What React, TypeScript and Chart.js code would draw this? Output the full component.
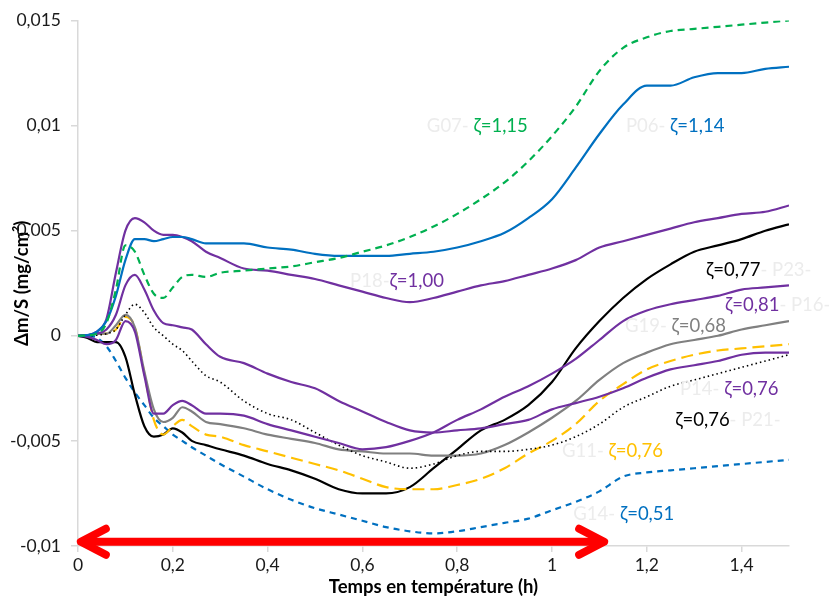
import { useEffect, useRef } from "react";
import { Chart, registerables } from "chart.js";
Chart.register(...registerables);

// Time in temperature (h)
const T = [0, 0.02, 0.04, 0.06, 0.08, 0.1, 0.12, 0.14, 0.16, 0.18, 0.2, 0.22, 0.24, 0.27, 0.3, 0.35, 0.4, 0.45, 0.5, 0.55, 0.6, 0.65, 0.7, 0.75, 0.8, 0.85, 0.9, 0.95, 1.0, 1.05, 1.1, 1.15, 1.2, 1.25, 1.3, 1.35, 1.4, 1.45, 1.5];

const G07 = [0, 0.00002, 0.0001, 0.0006, 0.0022, 0.0043, 0.004, 0.0029, 0.002, 0.0018, 0.0023, 0.0028, 0.0029, 0.0028, 0.003, 0.0031, 0.0032, 0.0033, 0.0035, 0.0037, 0.004, 0.0043, 0.0047, 0.0052, 0.0058, 0.0065, 0.0073, 0.0083, 0.0095, 0.0109, 0.0126, 0.0137, 0.0142, 0.0145, 0.0146, 0.0147, 0.0148, 0.0149, 0.015];
const P06 = [0, 0.00003, 0.0002, 0.0007, 0.0019, 0.0036, 0.0046, 0.0046, 0.0045, 0.0046, 0.0047, 0.0047, 0.0046, 0.0044, 0.0044, 0.0044, 0.0042, 0.0041, 0.0039, 0.0038, 0.0038, 0.0038, 0.0039, 0.004, 0.0042, 0.0045, 0.0049, 0.0056, 0.0065, 0.008, 0.0096, 0.011, 0.0119, 0.0119, 0.0123, 0.0125, 0.0125, 0.0127, 0.0128];
const P18 = [0, 0.00003, 0.0002, 0.0008, 0.003, 0.005, 0.0056, 0.0054, 0.005, 0.0048, 0.0048, 0.0047, 0.0045, 0.004, 0.0037, 0.0032, 0.0031, 0.0029, 0.0027, 0.0024, 0.0021, 0.0018, 0.0016, 0.0018, 0.0021, 0.0024, 0.0026, 0.0029, 0.0032, 0.0036, 0.0042, 0.0045, 0.0048, 0.0051, 0.0054, 0.0056, 0.0058, 0.0059, 0.0062];
const P23 = [0, -0.0001, -0.0003, -0.0003, -0.0003, -0.001, -0.0028, -0.0043, -0.0048, -0.0047, -0.0044, -0.0046, -0.005, -0.0052, -0.0054, -0.0057, -0.0061, -0.0064, -0.0068, -0.0073, -0.0075, -0.0075, -0.0072, -0.0063, -0.0054, -0.0045, -0.004, -0.0033, -0.0022, -0.0006, 0.0007, 0.0018, 0.0027, 0.0034, 0.004, 0.0043, 0.0046, 0.005, 0.0053];
const P16 = [0, -0.00005, -0.0002, -0.0004, -0.0002, 0.0007, 0.0002, -0.0019, -0.0037, -0.0037, -0.0033, -0.0031, -0.0033, -0.0037, -0.0037, -0.0038, -0.0042, -0.0045, -0.0048, -0.0051, -0.0054, -0.0053, -0.005, -0.0046, -0.004, -0.0035, -0.0029, -0.0024, -0.0018, -0.0011, -0.0002, 0.0007, 0.0012, 0.0015, 0.0017, 0.0019, 0.0022, 0.0023, 0.0024];
const G19 = [0, 0.00002, 0.0001, 0.0001, 0.0005, 0.001, 0.0004, -0.0017, -0.0035, -0.0041, -0.0039, -0.0034, -0.0036, -0.0041, -0.0042, -0.0044, -0.0047, -0.0049, -0.0051, -0.0054, -0.0055, -0.0056, -0.0056, -0.0057, -0.0057, -0.0056, -0.0052, -0.0046, -0.0039, -0.0031, -0.0021, -0.0013, -0.0008, -0.0004, -0.0002, 0.0, 0.0003, 0.0005, 0.0007];
const P14 = [0, 0.00003, 0.0001, 0.0003, 0.001, 0.0024, 0.0029, 0.0022, 0.0012, 0.0006, 0.0005, 0.0004, 0.0003, -0.0004, -0.001, -0.0013, -0.0018, -0.0022, -0.0025, -0.0031, -0.0036, -0.0041, -0.0045, -0.0046, -0.0045, -0.0044, -0.0042, -0.004, -0.0035, -0.0032, -0.0029, -0.0025, -0.002, -0.0016, -0.0014, -0.0012, -0.0009, -0.0008, -0.0008];
const P21 = [0, 0.0, 0.00003, 0.0001, 0.0003, 0.001, 0.0015, 0.0011, 0.0004, 0.0, -0.0004, -0.0007, -0.0012, -0.0019, -0.0022, -0.0031, -0.0037, -0.004, -0.0046, -0.0052, -0.0057, -0.006, -0.0063, -0.0061, -0.0057, -0.0055, -0.0055, -0.0054, -0.0052, -0.0048, -0.0042, -0.0034, -0.0029, -0.0024, -0.0021, -0.0018, -0.0015, -0.0012, -0.0009];
const G11 = [0, 0.00002, 0.0001, 0.0001, 0.0003, 0.0009, 0.0004, -0.0018, -0.004, -0.0047, -0.0043, -0.004, -0.0043, -0.0047, -0.0048, -0.0052, -0.0055, -0.0058, -0.0061, -0.0064, -0.0068, -0.0072, -0.0073, -0.0073, -0.0071, -0.0068, -0.0063, -0.0056, -0.005, -0.0042, -0.0031, -0.0023, -0.0016, -0.0012, -0.0009, -0.0007, -0.0006, -0.0005, -0.0004];
const G14 = [0, 0.0, -0.0001, -0.0005, -0.0012, -0.002, -0.0027, -0.0033, -0.0039, -0.0043, -0.0047, -0.005, -0.0053, -0.0057, -0.0061, -0.0067, -0.0073, -0.0078, -0.0082, -0.0085, -0.0088, -0.0091, -0.0093, -0.0094, -0.0093, -0.0091, -0.0089, -0.0087, -0.0083, -0.0079, -0.0074, -0.0067, -0.0065, -0.0064, -0.0063, -0.0062, -0.0061, -0.006, -0.0059];

const GREEN = "#00B050";
const BLUE = "#0070C0";
const PURPLE = "#7030A0";
const BLACK = "#000000";
const GRAY = "#808080";
const YELLOW = "#FFC000";
const LIGHT = "#ececec";
const RED = "#FF0000";
const AXIS = "#d9d9d9";

const FONT_FAMILY = 'Lato, "Liberation Sans", sans-serif';

const SERIES = [
  { name: "G07", values: G07, color: GREEN, width: 2.2, dash: [7, 5] },
  { name: "P06", values: P06, color: BLUE, width: 2.2, dash: [] },
  { name: "P18", values: P18, color: PURPLE, width: 2.2, dash: [] },
  { name: "P14", values: P14, color: PURPLE, width: 2.2, dash: [] },
  { name: "P16", values: P16, color: PURPLE, width: 2.2, dash: [] },
  { name: "P21", values: P21, color: BLACK, width: 1.6, dash: [1.5, 3] },
  { name: "G19", values: G19, color: GRAY, width: 2.2, dash: [] },
  { name: "G11", values: G11, color: YELLOW, width: 2.2, dash: [12, 6] },
  { name: "P23", values: P23, color: BLACK, width: 2.2, dash: [] },
  { name: "G14", values: G14, color: BLUE, width: 2.2, dash: [6, 5] },
];

// Annotation labels: anchor (start of text) in data units
const LABELS = [
  { x: 0.736, y: 0.01, parts: [["G07- ", LIGHT], ["ζ=1,15", GREEN]] },
  { x: 1.156, y: 0.01, parts: [["P06- ", LIGHT], ["ζ=1,14", BLUE]] },
  { x: 0.574, y: 0.0026, parts: [["P18-", LIGHT], ["ζ=1,00", PURPLE]] },
  { x: 1.325, y: 0.00315, parts: [["ζ=0,77", BLACK], ["- P23-", LIGHT]] },
  { x: 1.365, y: 0.00146, parts: [["ζ=0,81", PURPLE], ["- P16-", LIGHT]] },
  { x: 1.154, y: 0.00047, parts: [["G19- ", LIGHT], ["ζ=0,68", GRAY]] },
  { x: 1.27, y: -0.00254, parts: [["P14- ", LIGHT], ["ζ=0,76", PURPLE]] },
  { x: 1.26, y: -0.004, parts: [["ζ=0,76", BLACK], ["- P21-", LIGHT]] },
  { x: 1.021, y: -0.0055, parts: [["G11- ", LIGHT], ["ζ=0,76", YELLOW]] },
  { x: 1.045, y: -0.00847, parts: [["G14- ", LIGHT], ["ζ=0,51", BLUE]] },
];

const ARROW_FROM = 0.006;
const ARROW_TO = 1.11;
const ARROW_Y = -0.0098;

const overlayPlugin = {
  id: "overlay",
  afterDatasetsDraw(chart: any) {
    const { ctx, scales } = chart;
    const xs = scales.x;
    const ys = scales.y;
    ctx.save();
    ctx.font = `18.5px ${FONT_FAMILY}`;
    ctx.textBaseline = "middle";
    ctx.textAlign = "left";
    for (const lab of LABELS) {
      let px = xs.getPixelForValue(lab.x);
      const py = ys.getPixelForValue(lab.y);
      for (const [txt, col] of lab.parts) {
        ctx.fillStyle = col;
        ctx.fillText(txt, px, py);
        px += ctx.measureText(txt).width;
      }
    }
    // red double arrow
    const x1 = xs.getPixelForValue(ARROW_FROM);
    const x2 = xs.getPixelForValue(ARROW_TO);
    const y = ys.getPixelForValue(ARROW_Y);
    ctx.strokeStyle = RED;
    ctx.lineWidth = 8;
    ctx.lineCap = "round";
    ctx.lineJoin = "round";
    ctx.beginPath();
    ctx.moveTo(x1 + 2, y);
    ctx.lineTo(x2 - 2, y);
    ctx.stroke();
    ctx.beginPath();
    ctx.moveTo(x1 + 25, y - 13);
    ctx.lineTo(x1, y);
    ctx.lineTo(x1 + 25, y + 13);
    ctx.stroke();
    ctx.beginPath();
    ctx.moveTo(x2 - 25, y - 13);
    ctx.lineTo(x2, y);
    ctx.lineTo(x2 - 25, y + 13);
    ctx.stroke();
    ctx.restore();
  },
};

function fmt(v: number, d: number) {
  const r = Math.round(v * Math.pow(10, d)) / Math.pow(10, d);
  return String(r).replace(".", ",");
}

export default function App() {
  const ref = useRef<HTMLCanvasElement | null>(null);
  useEffect(() => {
    document.body.style.margin = "0";
    const canvas = ref.current;
    if (!canvas) return;
    const datasets = SERIES.map((s) => ({
      label: s.name,
      data: T.map((t, i) => ({ x: t, y: s.values[i] })),
      borderColor: s.color,
      backgroundColor: s.color,
      borderWidth: s.width,
      borderDash: s.dash,
      pointRadius: 0,
      fill: false,
      cubicInterpolationMode: "monotone" as const,
    }));
    const chart = new Chart(canvas, {
      type: "line",
      data: { datasets },
      plugins: [overlayPlugin],
      options: {
        animation: false,
        responsive: false,
        maintainAspectRatio: false,
        layout: { padding: { top: 15, right: 40, left: 0, bottom: 0 } },
        plugins: { legend: { display: false }, tooltip: { enabled: false } },
        scales: {
          x: {
            type: "linear",
            min: 0,
            max: 1.5,
            afterFit(scale: any) {
              scale.height = 57;
            },
            ticks: {
              stepSize: 0.2,
              includeBounds: false,
              color: "#1a1a1a",
              font: { size: 17.5, family: FONT_FAMILY },
              padding: 3,
              maxRotation: 0,
              callback: (v: any) => fmt(Number(v), 1),
            },
            grid: { drawOnChartArea: false, drawTicks: true, tickLength: 6, color: AXIS, lineWidth: 1.5 },
            border: { color: AXIS, width: 1.5 },
            title: {
              display: true,
              text: "Temps en température (h)",
              color: "#000",
              font: { size: 18.5, weight: "bold", family: FONT_FAMILY },
              padding: { top: 0, bottom: 5 },
            },
          },
          y: {
            type: "linear",
            min: -0.01,
            max: 0.015,
            afterFit(scale: any) {
              scale.width = 78;
            },
            ticks: {
              stepSize: 0.005,
              color: "#1a1a1a",
              font: { size: 17.5, family: FONT_FAMILY },
              padding: 10,
              callback: (v: any) => fmt(Number(v), 3),
            },
            grid: { drawOnChartArea: false, drawTicks: true, tickLength: 7, color: AXIS, lineWidth: 1.5 },
            border: { color: AXIS, width: 1.5 },
            title: {
              display: true,
              text: "Δm/S (mg/cm²)",
              color: "#000",
              font: { size: 18.5, weight: "bold", family: FONT_FAMILY },
              padding: { top: 11, bottom: 0 },
            },
          },
        },
      },
    });
    return () => chart.destroy();
  }, []);
  return (
    <div style={{ width: 829, height: 603 }}>
      <canvas ref={ref} width={829} height={603} style={{ width: 829, height: 603, display: "block" }} />
    </div>
  );
}
